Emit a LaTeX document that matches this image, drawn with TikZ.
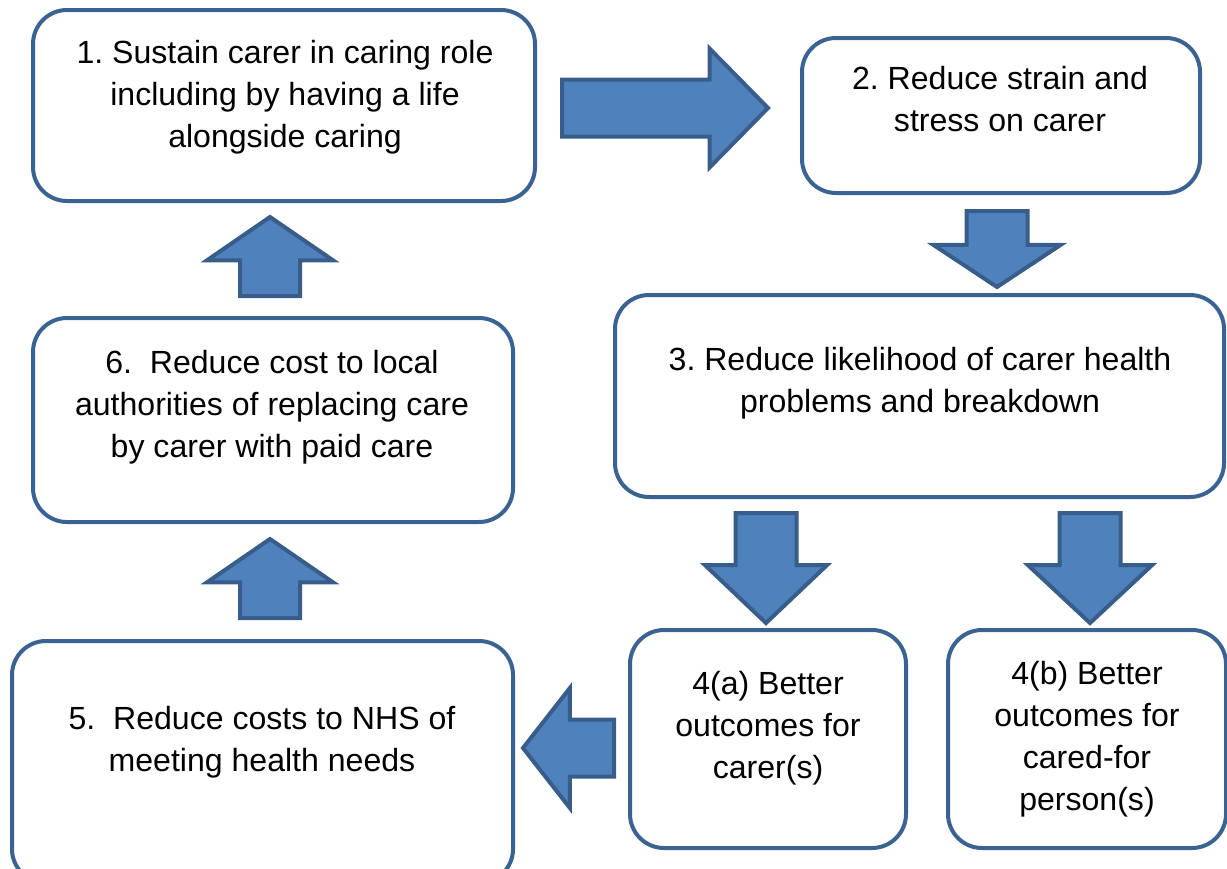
\documentclass[tikz,border=0pt]{standalone}
\usepackage{fontspec}
\setmainfont{Liberation Sans}
\usetikzlibrary{shapes.arrows}
\definecolor{boxline}{HTML}{3A6292}
\definecolor{arrowfill}{HTML}{4F81BD}
\definecolor{arrowline}{HTML}{385D8A}
\newcommand{\pxu}{0.025cm}
\tikzset{
  goalbox/.style={draw=boxline, line width=4*\pxu, rounded corners=34*\pxu, fill=white},
  goaltext/.style={align=center, inner sep=0pt, font=\fontsize{22.8pt}{29.9pt}\selectfont},
  blockarrow/.style={single arrow, draw=arrowline, fill=arrowfill, line width=4*\pxu, inner xsep=0pt}
}
\frenchspacing
\begin{document}
\begin{tikzpicture}[x=0.025cm, y=-0.025cm]
  \useasboundingbox (0,0) rectangle (1227,868);
  % Boxes, numbered as in the chain
  \node[goalbox, minimum width=502*\pxu, minimum height=191*\pxu] (b1) at (284,105.5) {};
  \node[goalbox, minimum width=398*\pxu, minimum height=155*\pxu] (b2) at (1001,115.5) {};
  \node[goalbox, minimum width=609*\pxu, minimum height=202*\pxu] (b3) at (919.5,396) {};
  \node[goalbox, minimum width=276*\pxu, minimum height=218*\pxu] (b4a) at (768,739) {};
  \node[goalbox, minimum width=278*\pxu, minimum height=218*\pxu] (b4b) at (1087,739) {};
  \node[goalbox, minimum width=501*\pxu, minimum height=242*\pxu] (b5) at (262.5,762) {};
  \node[goalbox, minimum width=480*\pxu, minimum height=204*\pxu] (b6) at (273,420) {};

  % Texts (sit a little above the middle of each box)
  \node[goaltext] (t1) at (285,97) {1. Sustain carer in caring role\\including by having a life\\alongside caring};
  \node[goaltext] (t2) at (1000,99) {2. Reduce strain and\\stress on carer};
  \node[goaltext] (t3) at (920,383) {3. Reduce likelihood of carer health\\problems and breakdown};
  \node[goaltext] (t4a) at (768,728) {4(a) Better\\outcomes for\\carer(s)};
  \node[goaltext] (t4b) at (1087,739) {4(b) Better\\outcomes for\\cared-for\\person(s)};
  \node[goaltext] (t5) at (262,742) {5.\ \ Reduce costs to NHS of\\meeting health needs};
  \node[goaltext] (t6) at (272,407) {6.\ \ Reduce cost to local\\authorities of replacing care\\by carer with paid care};

  % Block arrows: name / tail x / tail y / rotation / length / tip angle / head width / shaft width
  \foreach \nm/\tx/\ty/\rot/\len/\ang/\hw/\sw in {
      a12/560/108/0/206/91/115/53,
      a23/997/209/-90/76/113/123/57,
      a34a/766/511/-90/110/93/118/57,
      a34b/1090/511/-90/110/94/120/57,
      a45/616/748/180/91/104/116/53,
      a56/270/620/90/79/111/122/56,
      a61/270/298/90/79/111/122/56}{
    \node[blockarrow, rotate=\rot, anchor=tail, minimum height=\len*\pxu,
          inner ysep=\sw/2*\pxu, minimum width=\hw*\pxu,
          single arrow head extend=(\hw-\sw)/2*\pxu,
          single arrow tip angle=\ang] (\nm) at (\tx,\ty) {};
  }
\end{tikzpicture}
\end{document}
